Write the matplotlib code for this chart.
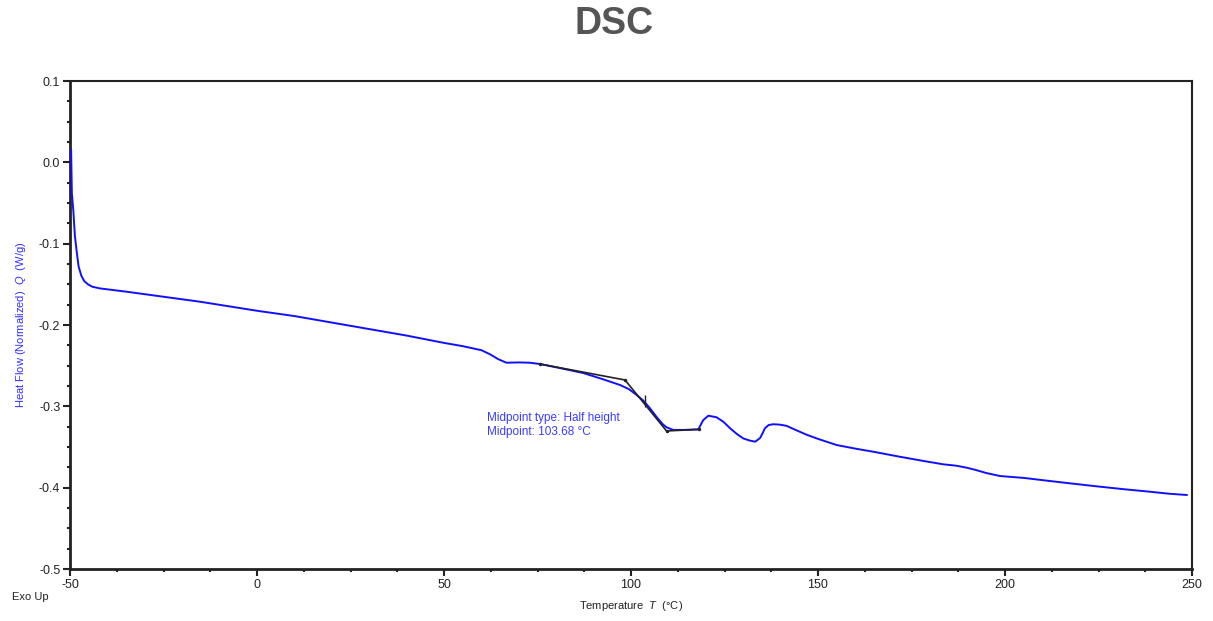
import numpy as np
import matplotlib
matplotlib.use("Agg")
import matplotlib.pyplot as plt
from matplotlib.ticker import MultipleLocator

plt.rcParams['font.family'] = ['Liberation Sans', 'DejaVu Sans']
plt.rcParams['axes.unicode_minus'] = False
plt.rcParams['mathtext.fontset'] = 'custom'
plt.rcParams['mathtext.it'] = 'Liberation Sans:italic'
plt.rcParams['mathtext.rm'] = 'Liberation Sans'

# heat flow curve
temp = [-49.7, -49.5, -49.1, -48.7, -48.2, -47.7, -47.0, -46.2, -45.2, -44.0,
        -42.0, -35.0, -15.2, 0, 10, 20, 30, 40, 50, 55,
        60, 62.3, 64.5, 66.7, 70, 73, 75.7, 80, 87.2, 92.5,
        97.1, 99.5, 101.5, 103.3, 105, 106.8, 108.5, 109.5, 111.3, 114,
        118, 119.3, 120.7, 122.9, 124.7, 126.5, 128.3, 130, 131.7, 133.2,
        134.5, 135.2, 135.8, 136.8, 138, 139.8, 141.6, 144, 147, 150,
        155, 160, 165, 171.9, 178, 183.5, 187, 189.7, 192, 195,
        198.7, 205, 212, 218, 225.4, 232, 238.8, 244, 248.6]
heat = [0.015, -0.038, -0.060, -0.090, -0.110, -0.128, -0.139, -0.146, -0.150, -0.153,
        -0.155, -0.159, -0.1714, -0.1825, -0.189, -0.197, -0.205, -0.213, -0.222, -0.226,
        -0.231, -0.236, -0.242, -0.2464, -0.246, -0.2464, -0.248, -0.252, -0.259, -0.2667,
        -0.2738, -0.279, -0.286, -0.293, -0.302, -0.3128, -0.322, -0.3258, -0.329, -0.329,
        -0.3283, -0.317, -0.3115, -0.3135, -0.319, -0.327, -0.334, -0.3394, -0.342, -0.3435,
        -0.339, -0.333, -0.327, -0.323, -0.322, -0.3225, -0.324, -0.329, -0.335, -0.340,
        -0.3476, -0.352, -0.356, -0.362, -0.367, -0.3713, -0.373, -0.3754, -0.378, -0.382,
        -0.3857, -0.388, -0.3918, -0.395, -0.3988, -0.402, -0.405, -0.4075, -0.409]

# glass transition construction lines
tan_t = [75.7, 98.4, 109.5, 118.3]
tan_q = [-0.248, -0.2676, -0.3303, -0.3283]
mid_t = 103.68
mid_q = -0.294

xticks = [-50, 0, 50, 100, 150, 200, 250]
yticks = [0.1, 0.0, -0.1, -0.2, -0.3, -0.4, -0.5]

fig = plt.figure(figsize=(12.13, 6.21), dpi=100)
ax = fig.add_axes([70/1213, 1-569/621, 1122/1213, 488/621])

ax.plot(temp, heat, color='#1010ff', lw=1.4, zorder=3)
ax.plot(tan_t, tan_q, color='#222222', lw=1.2, zorder=4)
ax.plot(tan_t, tan_q, ls='none', marker='.', ms=3, color='#222222', zorder=4)
ax.plot([mid_t], [mid_q], ls='none', marker='|', ms=8, mew=1.0, color='#222222', zorder=4)

ax.text(61.5, -0.3144, "Midpoint type: Half height", color='#3c3cff', fontsize=8.5, va='center')
ax.text(61.5, -0.3316, "Midpoint: 103.68 \u00b0C", color='#3c3cff', fontsize=8.5, va='center')

ax.set_xlim(-50, 250)
ax.set_ylim(-0.5, 0.1)
ax.set_xticks(xticks)
ax.set_xticklabels([str(v) for v in xticks])
ax.set_yticks(yticks)
ax.set_yticklabels(["%.1f" % v for v in yticks])
ax.xaxis.set_minor_locator(MultipleLocator(12.5))
ax.yaxis.set_minor_locator(MultipleLocator(0.025))
ax.tick_params(which='major', direction='out', length=5, width=1.5, labelsize=9, pad=2, colors='#222222')
ax.tick_params(which='minor', direction='out', length=2.5, width=1.5, colors='#222222')

for s in ['left', 'bottom']:
    ax.spines[s].set_linewidth(2)
for s in ['top', 'right']:
    ax.spines[s].set_linewidth(1.5)
for s in ax.spines.values():
    s.set_color('#222222')

ax.set_xlabel("Temperature  $T$  (\u00b0C)", fontsize=8, color='#222222', labelpad=6)
ax.set_ylabel("Heat Flow (Normalized)  $Q$  (W/g)", fontsize=8, color='#3030ff', labelpad=8)

fig.text(12/1213, 1-597/621, "Exo Up", fontsize=8, color='#222222', va='center')
fig.text(0.506, 1-24/621, "DSC", fontsize=27, fontweight='bold', color='#555555', ha='center', va='center')

fig.savefig("out.png", dpi=100)
